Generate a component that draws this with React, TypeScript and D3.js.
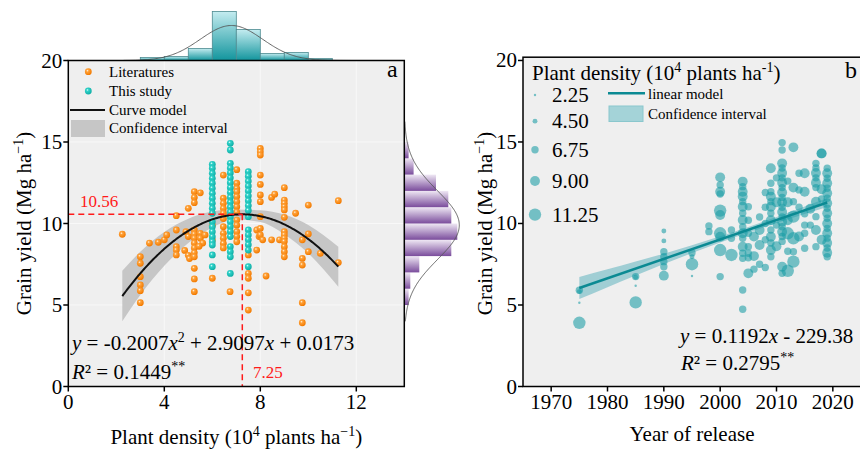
import React from 'react';
import * as d3 from 'd3';

const FONT = '"Liberation Serif", "Times New Roman", serif';

// ---------- Panel a data ----------
const literatures: [number, number][] = [
  [2.25, 9.34],
  [3, 7.96], [3, 7.56], [3, 6.74], [3, 6.23], [3, 5.88], [3, 5.14],
  [3.38, 8.8], [3.75, 8.85], [4.0, 9.0], [4.1, 9.3],
  [4.5, 10.48], [4.5, 9.6], [4.5, 8.58], [4.5, 8.37], [4.5, 8.07],
  [5.0, 10.93], [4.9, 9.5], [5.0, 9.2], [4.85, 8.35], [5.0, 8.05], [5.05, 7.85],
  [5.25, 11.95], [5.25, 11.6], [5.25, 11.28], [5.5, 11.88],
  [5.25, 9.6], [5.25, 9.35], [5.25, 9.1], [5.25, 8.8], [5.25, 8.5], [5.25, 8.2], [5.25, 7.96],
  [5.25, 7.25], [5.25, 6.6], [5.25, 5.82],
  [5.5, 9.4], [5.5, 9.1], [5.6, 8.8], [5.45, 8.6], [5.7, 9.3],
  [6.0, 9.9], [6.0, 9.0], [6.0, 6.64],
  [6.46, 12.97], [6.46, 11.55], [6.46, 11.24], [6.46, 10.93], [6.46, 10.63], [6.46, 10.3],
  [6.46, 9.8], [6.46, 9.4], [6.46, 9.1], [6.46, 8.78], [6.46, 8.5],
  [6.74, 5.82],
  [7.02, 13.3], [7.02, 12.47], [7.02, 12.15], [7.02, 11.95], [7.02, 11.65], [7.02, 11.34],
  [7.02, 11.03], [7.02, 10.7], [7.02, 10.21], [7.02, 9.9], [7.02, 9.5], [7.02, 9.2], [7.02, 8.88],
  [7.5, 8.07], [7.5, 6.94], [7.5, 6.64], [7.5, 5.75], [7.5, 4.69],
  [7.85, 8.37], [7.85, 9.6], [7.95, 9.2],
  [8, 14.6], [8, 14.4], [8, 14.2], [8, 12.97], [8, 12.4], [8, 11.75], [8, 11.34], [8, 10.42], [8, 9.7], [8, 9.3],
  [8.1, 9.0], [8.47, 9.0], [8.8, 9.0], [8.24, 6.78], [8.47, 11.6], [8.6, 11.8],
  [9, 12.2], [9, 11.44], [9, 11.24], [9, 11.03], [9, 10.83], [9, 10.38], [9, 9.5], [9, 9.3],
  [9, 9.1], [9, 8.9], [9, 8.58], [9, 8.27], [9, 7.96],
  [9.47, 10.63], [10, 11.13], [10, 9.36], [10, 8.27],
  [9.75, 9.0], [9.75, 7.86], [9.75, 7.45], [9.75, 5.14], [9.75, 3.91],
  [10.5, 8.17], [11.25, 11.4], [11.25, 7.6],
];

const studyDensities = [6.0, 6.75, 7.5];
const studyYields: number[][] = [
  [13.63, 13.39, 13.08, 12.77, 12.47, 12.16, 11.85, 11.55, 11.24, 10.93, 10.63, 10.11, 9.8, 9.5, 9.19, 8.88, 8.68, 8.07, 7.35],
  [14.92, 14.51, 13.69, 13.4, 13.1, 12.8, 12.5, 12.2, 11.9, 11.6, 11.3, 11.0, 10.7, 10.4, 10.1, 9.8, 9.5, 9.2, 8.58, 8.27, 7.96, 6.94],
  [13.18, 12.9, 12.6, 12.3, 12.0, 11.7, 11.4, 11.1, 10.8, 10.42, 9.6, 9.3, 9.0, 8.7, 8.37, 7.35],
];

const quadA = -0.2007, quadB = 2.9097, quadC = 0.0173;
const peakX = 7.25, peakY = 10.56;
const ciXA = [2.25, 3, 4, 5, 6, 7, 8, 9, 10, 11.25];
const ciHalfA = [1.55, 1.33, 1.04, 0.75, 0.49, 0.31, 0.36, 0.6, 0.87, 1.23];

const topBinEdges = [3, 4, 5, 6, 7, 8, 9, 10, 11];
const topBinCounts = [3, 4, 12, 49, 31, 7, 8, 2];
const topNormal = { mean: 6.8, sd: 1.3, peak: 35 };

const rightBinEdges = [5, 6, 7, 8, 9, 10, 11, 12, 13, 14, 15];
const rightBinCounts = [4.3, 6, 15, 47, 53, 47, 44, 31.7, 9.3, 4.3];
const rightNormal = { mean: 9.9, sd: 2.1, peak: 55 };

const xTicksA = [0, 4, 8, 12];
const yTicks = [0, 5, 10, 15, 20];

// ---------- Panel b data: [year, yield, plant density] ----------
const releaseData: [number, number, number][] = [
  [1975, 5.9, 6.75], [1975, 5.82, 4.5], [1975, 5.14, 2.25], [1975, 3.91, 11.25],
  [1985, 6.74, 6.75], [1985, 6.7, 4.5], [1985, 6.18, 2.25], [1985, 5.16, 11.25],
  [1990, 9.54, 4.5], [1990, 8.93, 4.5], [1990, 8.27, 6.75], [1990, 7.96, 6.75], [1990, 7.66, 6.75], [1990, 7.35, 6.75], [1990, 6.8, 9],
  [1995, 8.2, 6.75], [1995, 7.96, 4.5], [1995, 7.5, 11.25], [1995, 6.78, 2.25],
  [1998, 9.85, 6.75], [1998, 9.5, 6.75],
  [2000, 12.83, 9], [2000, 12.36, 6.75], [2000, 11.95, 9], [2000, 11.81, 6.75], [2000, 10.79, 11.25], [2000, 10.52, 9],
  [2000, 9.4, 11.25], [2000, 9.19, 9], [2000, 8.37, 11.25], [2000, 6.74, 6.75],
  [2002, 9.6, 6.75], [2002, 9.09, 6.75], [2002, 8.07, 11.25],
  [2004, 12.57, 9], [2004, 12.26, 6.75], [2004, 11.95, 9], [2004, 11.65, 9], [2004, 11.34, 6.75], [2004, 11.03, 9],
  [2004, 10.63, 6.75], [2004, 10.21, 9], [2004, 9.8, 6.75], [2004, 9.4, 9], [2004, 9.09, 6.75], [2004, 8.58, 9],
  [2004, 8.17, 6.75], [2004, 7.86, 6.75], [2004, 5.92, 6.75], [2004, 4.74, 6.75],
  [2005, 11.03, 6.75], [2005, 10.2, 6.75], [2005, 9.4, 6.75], [2005, 8.58, 6.75], [2005, 8.17, 6.75], [2005, 7.9, 6.75], [2005, 6.94, 9],
  [2006, 9.2, 9], [2006, 8.0, 9], [2006, 7.2, 6.75],
  [2007, 10.4, 6.75], [2007, 9.6, 9], [2007, 8.68, 9], [2007, 7.5, 6.75],
  [2008, 11.9, 6.75], [2008, 11.0, 6.75], [2008, 10.0, 6.75], [2008, 9.0, 6.75], [2008, 7.3, 6.75],
  [2009, 13.39, 9], [2009, 12.47, 6.75], [2009, 11.95, 6.75], [2009, 11.65, 9], [2009, 11.34, 6.75], [2009, 11.03, 9],
  [2009, 10.63, 6.75], [2009, 10.2, 9], [2009, 9.6, 6.75], [2009, 9.19, 9], [2009, 8.8, 6.75], [2009, 8.37, 9], [2009, 7.96, 6.75],
  [2010, 12.8, 6.75], [2010, 11.3, 9], [2010, 9.9, 6.75], [2010, 8.6, 9],
  [2011, 14.96, 6.75], [2011, 14.51, 6.75], [2011, 13.69, 9], [2011, 13.4, 6.75], [2011, 13.1, 9], [2011, 12.8, 6.75],
  [2011, 12.5, 9], [2011, 12.2, 6.75], [2011, 11.9, 9], [2011, 11.6, 6.75], [2011, 11.3, 9], [2011, 11.0, 6.75],
  [2011, 10.7, 9], [2011, 10.4, 6.75], [2011, 10.1, 9], [2011, 9.8, 6.75], [2011, 9.5, 9], [2011, 9.2, 6.75],
  [2011, 8.9, 6.75], [2011, 7.35, 9], [2011, 6.94, 6.75],
  [2012, 12.6, 6.75], [2012, 11.3, 9], [2012, 10.2, 9], [2012, 8.3, 6.75], [2012, 9.4, 11.25], [2012, 7.1, 11.25],
  [2013, 14.67, 9], [2013, 12.2, 9], [2013, 11.34, 6.75], [2013, 10.42, 11.25], [2013, 9.09, 11.25], [2013, 8.27, 6.75], [2013, 7.66, 11.25],
  [2014, 13.08, 6.75], [2014, 12.06, 6.75], [2014, 11.0, 6.75], [2014, 9.2, 9],
  [2015, 13.08, 9], [2015, 11.95, 9], [2015, 10.6, 6.75], [2015, 9.9, 6.75], [2015, 9.4, 6.75], [2015, 8.48, 6.75],
  [2016, 10.9, 9], [2016, 9.9, 6.75],
  [2017, 13.69, 6.75], [2017, 13.4, 6.75], [2017, 13.1, 9], [2017, 12.8, 6.75], [2017, 12.5, 9], [2017, 12.2, 6.75],
  [2017, 11.34, 9], [2017, 10.42, 6.75], [2017, 9.6, 9], [2017, 8.58, 6.75],
  [2018, 14.3, 9], [2018, 14.3, 9], [2018, 12.1, 9], [2018, 11.5, 6.75], [2018, 9.0, 9],
  [2019, 13.39, 6.75], [2019, 13.08, 9], [2019, 12.77, 6.75], [2019, 12.47, 9], [2019, 12.16, 6.75], [2019, 11.85, 9],
  [2019, 11.55, 6.75], [2019, 11.24, 9], [2019, 10.93, 6.75], [2019, 10.63, 9], [2019, 10.32, 6.75], [2019, 10.0, 9],
  [2019, 9.7, 6.75], [2019, 9.4, 9], [2019, 9.1, 6.75], [2019, 8.8, 9], [2019, 8.5, 6.75], [2019, 8.2, 9], [2019, 7.96, 6.75],
];

const linSlope = 0.1192, linIntercept = -229.38;
const linRange = [1975, 2019];
const ciYearsB = [1975, 1980, 1985, 1990, 1995, 2000, 2005, 2010, 2015, 2019];
const ciHalfB = [0.68, 0.55, 0.43, 0.32, 0.24, 0.19, 0.17, 0.18, 0.23, 0.28];

const xTicksB = [1970, 1980, 1990, 2000, 2010, 2020];
const sizeLegend = [2.25, 4.5, 6.75, 9.0, 11.25];

const Sup = ({ children }: { children: React.ReactNode }) => (
  <tspan dy={-8} fontSize={14}>{children}</tspan>
);

export default function App() {
  const xA = d3.scaleLinear().domain([0, 14]).range([68.3, 404.3]);
  const yA = d3.scaleLinear().domain([0, 20]).range([386.5, 60.5]);
  const xB = d3.scaleLinear().domain([1965, 2025]).range([523, 861]);
  const yB = d3.scaleLinear().domain([0, 20.2]).range([386.5, 57.2]);
  const freq = d3.scaleLinear().domain([0, 50]).range([0, 50]);
  const rB = d3.scaleLinear().domain([2.25, 11.25]).range([1.2, 6.2]);

  const quad = (x: number) => quadA * x * x + quadB * x + quadC;
  const fitPath = d3.line<number>().x(x => xA(x)).y(x => yA(quad(x)))(d3.range(2.25, 11.2501, 0.05))!;
  const ciAreaA = d3.area<number>()
    .x((_, i) => xA(ciXA[i]))
    .y0((x, i) => yA(quad(x) - ciHalfA[i]))
    .y1((x, i) => yA(quad(x) + ciHalfA[i]))
    .curve(d3.curveMonotoneX)(ciXA)!;

  const topBase = yA(20);
  const rightBase = xA(14);
  const gauss = (v: number, n: { mean: number; sd: number; peak: number }) =>
    n.peak * Math.exp(-((v - n.mean) ** 2) / (2 * n.sd * n.sd));
  const topCurve = d3.line<number>().x(x => xA(x)).y(x => topBase - freq(gauss(x, topNormal))).curve(d3.curveBasis)(d3.range(2.3, 11.8, 0.05))!;
  const rightCurve = d3.line<number>().x(y => rightBase + freq(gauss(y, rightNormal))).y(y => yA(y)).curve(d3.curveBasis)(d3.range(4.0, 16.3, 0.05))!;

  const lin = (t: number) => linSlope * t + linIntercept;
  const linPath = d3.line<number>().x(t => xB(t)).y(t => yB(lin(t)))(linRange)!;
  const ciAreaB = d3.area<number>()
    .x(t => xB(t))
    .y0((t, i) => yB(lin(t) - ciHalfB[i]))
    .y1((t, i) => yB(lin(t) + ciHalfB[i]))
    .curve(d3.curveMonotoneX)(ciYearsB)!;

  const studyPoints: [number, number][] = studyDensities.flatMap((d, i) => studyYields[i].map(y => [d, y] as [number, number]));

  const legendYs: number[] = [];
  sizeLegend.forEach((v, i) => {
    if (i === 0) legendYs.push(95);
    else legendYs.push(legendYs[i - 1] + 22.5 + rB(sizeLegend[i - 1]) + rB(v));
  });

  const axisStroke = { stroke: '#000', strokeWidth: 1.5 };

  return (
    <svg width={860} height={452} style={{ position: 'absolute', left: 0, top: 0, background: '#fff' }} fontFamily={FONT}>
      <defs>
        <radialGradient id="gOrange" cx="38%" cy="35%" r="65%">
          <stop offset="0%" stopColor="#fff4e0" />
          <stop offset="28%" stopColor="#ffa23a" />
          <stop offset="100%" stopColor="#f27a00" />
        </radialGradient>
        <radialGradient id="gTeal" cx="38%" cy="35%" r="65%">
          <stop offset="0%" stopColor="#e6fffc" />
          <stop offset="28%" stopColor="#2fd2c9" />
          <stop offset="100%" stopColor="#10aea6" />
        </radialGradient>
        <linearGradient id="gTop" x1="0" y1="0" x2="0" y2="1">
          <stop offset="0%" stopColor="#c4ecf0" />
          <stop offset="100%" stopColor="#12959d" />
        </linearGradient>
        <linearGradient id="gRight" x1="0" y1="0" x2="0" y2="1">
          <stop offset="0%" stopColor="#efe8f4" />
          <stop offset="100%" stopColor="#7a4c9c" />
        </linearGradient>
        <clipPath id="clipA"><rect x={xA(0)} y={yA(20)} width={xA(14) - xA(0)} height={yA(0) - yA(20)} /></clipPath>
      </defs>

      {/* ===== Panel a ===== */}
      <rect x={xA(0)} y={yA(20)} width={xA(14) - xA(0)} height={yA(0) - yA(20)} fill="#efefef" />
      {[4, 8, 12].map(v => <line key={'gx' + v} x1={xA(v)} x2={xA(v)} y1={yA(0)} y2={yA(20)} stroke="#f8f8f8" strokeWidth={1} />)}
      {[5, 10, 15].map(v => <line key={'gy' + v} x1={xA(0)} x2={xA(14)} y1={yA(v)} y2={yA(v)} stroke="#f8f8f8" strokeWidth={1} />)}

      {topBinCounts.map((c, i) => (
        <rect key={'tb' + i} x={xA(topBinEdges[i])} width={xA(topBinEdges[i + 1]) - xA(topBinEdges[i])}
          y={topBase - freq(c)} height={freq(c)} fill="url(#gTop)" stroke="#4d8a90" strokeWidth={0.8} />
      ))}
      <path d={topCurve} fill="none" stroke="#555" strokeWidth={0.9} />

      {rightBinCounts.map((c, i) => (
        <rect key={'rb' + i} x={rightBase} width={freq(c)}
          y={yA(rightBinEdges[i + 1])} height={yA(rightBinEdges[i]) - yA(rightBinEdges[i + 1])} fill="url(#gRight)" />
      ))}
      <path d={rightCurve} fill="none" stroke="#555" strokeWidth={0.9} />

      <g clipPath="url(#clipA)">
        <path d={ciAreaA} fill="#c6c6c6" />
        {literatures.map((p, i) => <circle key={'l' + i} cx={xA(p[0])} cy={yA(p[1])} r={3.4} fill="url(#gOrange)" />)}
        {studyPoints.map((p, i) => <circle key={'s' + i} cx={xA(p[0])} cy={yA(p[1])} r={3.4} fill="url(#gTeal)" />)}
        <path d={fitPath} fill="none" stroke="#111" strokeWidth={2} />
        <line x1={xA(0)} x2={xA(peakX)} y1={yA(peakY)} y2={yA(peakY)} stroke="#ff1a1a" strokeWidth={1.5} strokeDasharray="6,4" />
        <line x1={xA(peakX)} x2={xA(peakX)} y1={yA(peakY)} y2={yA(0)} stroke="#ff1a1a" strokeWidth={1.5} strokeDasharray="6,4" />
      </g>
      <text x={80} y={207} fontSize={17} fill="#ff1a1a">{peakY.toFixed(2)}</text>
      <text x={253} y={378} fontSize={17} fill="#ff1a1a">{peakX.toFixed(2)}</text>

      <rect x={xA(0)} y={yA(20)} width={xA(14) - xA(0)} height={yA(0) - yA(20)} fill="none" {...axisStroke} />
      {yTicks.map(v => (
        <g key={'ya' + v}>
          <line x1={xA(0) - 5} x2={xA(0)} y1={yA(v)} y2={yA(v)} {...axisStroke} />
          <text x={xA(0) - 6} y={yA(v) + 7} fontSize={21} textAnchor="end">{v}</text>
        </g>
      ))}
      {xTicksA.map(v => (
        <g key={'xa' + v}>
          <line x1={xA(v)} x2={xA(v)} y1={yA(0)} y2={yA(0) + 5} {...axisStroke} />
          <text x={xA(v)} y={409} fontSize={21} textAnchor="middle">{v}</text>
        </g>
      ))}
      <text x={(xA(0) + xA(14)) / 2} y={444} fontSize={21} textAnchor="middle">
        <tspan>Plant density (10</tspan><Sup>4</Sup><tspan dy={8}> plants ha</tspan><Sup>−1</Sup><tspan dy={8}>)</tspan>
      </text>
      <text transform={`translate(31, ${(yA(0) + yA(20)) / 2}) rotate(-90)`} fontSize={21} textAnchor="middle">
        <tspan>Grain yield (Mg ha</tspan><Sup>−1</Sup><tspan dy={8}>)</tspan>
      </text>
      <text x={387} y={77} fontSize={24}>a</text>

      <circle cx={88.3} cy={71.7} r={3.4} fill="url(#gOrange)" />
      <text x={109} y={77} fontSize={15}>Literatures</text>
      <circle cx={88.3} cy={91} r={3.4} fill="url(#gTeal)" />
      <text x={109} y={96} fontSize={15}>This study</text>
      <line x1={70} x2={105} y1={110} y2={110} stroke="#111" strokeWidth={2} />
      <text x={109} y={115} fontSize={15}>Curve model</text>
      <rect x={71} y={120} width={34} height={17} fill="#c6c6c6" />
      <text x={109} y={133} fontSize={15}>Confidence interval</text>

      <text x={72} y={350} fontSize={21}>
        <tspan fontStyle="italic">y</tspan>{' = -0.2007'}<tspan fontStyle="italic">x</tspan><Sup>2</Sup>
        <tspan dy={8}>{' + 2.9097'}</tspan><tspan fontStyle="italic">x</tspan>{' + 0.0173'}
      </text>
      <text x={72} y={379} fontSize={21}>
        <tspan fontStyle="italic">R</tspan>{'² = 0.1449'}<Sup>**</Sup>
      </text>

      {/* ===== Panel b ===== */}
      <rect x={xB(1965)} y={yB(20.2)} width={xB(2025) - xB(1965)} height={yB(0) - yB(20.2)} fill="#efefef" />
      <path d={ciAreaB} fill="#74bcc4" fillOpacity={0.65} />
      {releaseData.map((p, i) => (
        <circle key={'b' + i} cx={xB(p[0])} cy={yB(p[1])} r={rB(p[2])} fill="#1a9ca5" fillOpacity={0.58} />
      ))}
      <path d={linPath} fill="none" stroke="#0b8a93" strokeWidth={2.5} />

      <rect x={xB(1965)} y={yB(20.2)} width={xB(2025) - xB(1965)} height={yB(0) - yB(20.2)} fill="none" {...axisStroke} />
      {yTicks.map(v => (
        <g key={'yb' + v}>
          <line x1={xB(1965) - 5} x2={xB(1965)} y1={yB(v)} y2={yB(v)} {...axisStroke} />
          <text x={xB(1965) - 6} y={yB(v) + 7} fontSize={21} textAnchor="end">{v}</text>
        </g>
      ))}
      {xTicksB.map(v => (
        <g key={'xb' + v}>
          <line x1={xB(v)} x2={xB(v)} y1={yB(0)} y2={yB(0) + 5} {...axisStroke} />
          <text x={xB(v)} y={409} fontSize={21} textAnchor="middle">{v}</text>
        </g>
      ))}
      <text x={692} y={441} fontSize={21} textAnchor="middle">Year of release</text>
      <text transform={`translate(492, ${(yB(0) + yB(20)) / 2}) rotate(-90)`} fontSize={21} textAnchor="middle">
        <tspan>Grain yield (Mg ha</tspan><Sup>−1</Sup><tspan dy={8}>)</tspan>
      </text>
      <text x={845} y={78} fontSize={24}>b</text>

      <text x={532} y={80} fontSize={21}>
        <tspan>Plant density (10</tspan><Sup>4</Sup><tspan dy={8}> plants ha</tspan><Sup>-1</Sup><tspan dy={8}>)</tspan>
      </text>
      {sizeLegend.map((v, i) => (
        <g key={'sl' + i}>
          <circle cx={535} cy={legendYs[i]} r={rB(v)} fill="#1a9ca5" fillOpacity={0.58} />
          <text x={552} y={legendYs[i] + 7} fontSize={21}>{v.toFixed(2)}</text>
        </g>
      ))}
      <line x1={608} x2={645} y1={93.3} y2={93.3} stroke="#0b8a93" strokeWidth={2.5} />
      <text x={648} y={99} fontSize={15}>linear model</text>
      <rect x={609} y={106} width={34} height={15.5} fill="#a4d3d8" stroke="#8ac7cd" strokeWidth={1} />
      <text x={648} y={119} fontSize={15}>Confidence interval</text>

      <text x={680} y={343} fontSize={21}>
        <tspan fontStyle="italic">y</tspan>{' = 0.1192'}<tspan fontStyle="italic">x</tspan>{' - 229.38'}
      </text>
      <text x={681} y={370} fontSize={21}>
        <tspan fontStyle="italic">R</tspan>{'² = 0.2795'}<Sup>**</Sup>
      </text>
    </svg>
  );
}
